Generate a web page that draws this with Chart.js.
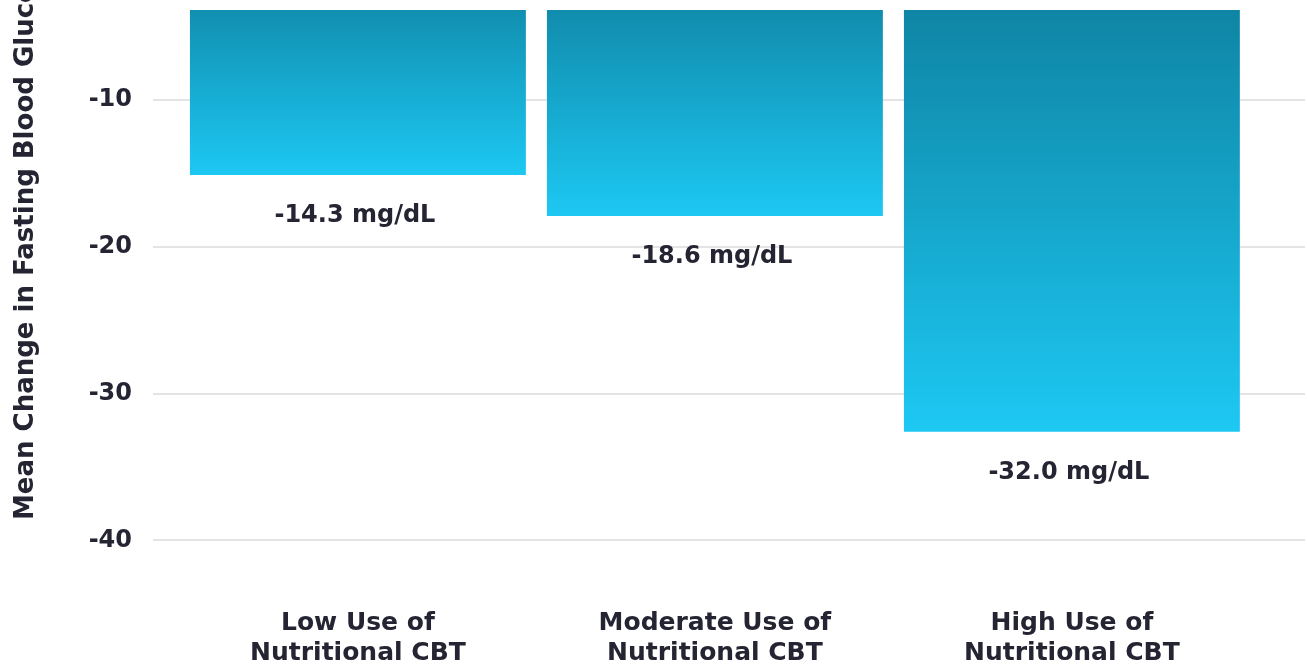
<!DOCTYPE html>
<html>
<head>
<meta charset="utf-8">
<script src="https://cdn.jsdelivr.net/npm/chart.js@4"></script>
<style>
  html, body { margin: 0; padding: 0; background: #fff; }
  #wrap { width: 1307px; height: 668px; }
</style>
</head>
<body>
<div id="wrap"><canvas id="glucoseChart"></canvas></div>
<script>
// chart data
const categories = [
  ['Low Use of', 'Nutritional CBT'],
  ['Moderate Use of', 'Nutritional CBT'],
  ['High Use of', 'Nutritional CBT']
];
const positions = [0, 1, 2];
const meanChange = [-15.1, -17.9, -32.6];
const valueLabels = ['-14.3 mg/dL', '-18.6 mg/dL', '-32.0 mg/dL'];
const yTicks = [-40, -30, -20, -10];
const yTitle = 'Mean Change in Fasting Blood Glucose (mg/dL)';

const textColor = '#242432';
const fontFamily = '"DejaVu Sans", sans-serif';

const barGradient = (context) => {
    const chart = context.chart;
    const { ctx, chartArea } = chart;
    if (!chartArea || context.raw == null) return '#19b4df';
    const y = chart.scales.y;
    const g = ctx.createLinearGradient(0, y.getPixelForValue(0), 0, y.getPixelForValue(context.raw.y));
    g.addColorStop(0, '#0d7c9a');
    g.addColorStop(1, '#1dc8f3');
    return g;
};

const valueLabelPlugin = {
    id: 'valueLabels',
    afterDatasetsDraw(chart) {
        const { ctx } = chart;
        const meta = chart.getDatasetMeta(0);
        ctx.save();
        ctx.fillStyle = textColor;
        ctx.font = 'bold 24px ' + fontFamily;
        ctx.textAlign = 'center';
        ctx.textBaseline = 'middle';
        meta.data.forEach((bar, i) => {
            ctx.fillText(valueLabels[i], bar.x - 3, bar.y + 41);
        });
        ctx.restore();
    }
};

// y title sits partly above the canvas, like in the cropped original
const yTitlePlugin = {
    id: 'yTitle',
    afterDraw(chart) {
        const { ctx } = chart;
        ctx.save();
        ctx.translate(33, 520);
        ctx.rotate(-Math.PI / 2);
        ctx.fillStyle = textColor;
        ctx.font = 'bold 26px ' + fontFamily;
        ctx.textAlign = 'left';
        ctx.textBaseline = 'alphabetic';
        ctx.fillText(yTitle, 0, 0);
        ctx.restore();
    }
};

const noPadding = (scale) => {
    scale.paddingLeft = 0;
    scale.paddingRight = 0;
    scale.paddingTop = 0;
    scale.paddingBottom = 0;
};

new Chart(document.getElementById('glucoseChart'), {
    type: 'bar',
    data: {
        datasets: [{
            data: positions.map((x, i) => ({ x: x, y: meanChange[i] })),
            backgroundColor: barGradient,
            borderWidth: 0,
            categoryPercentage: 1,
            barPercentage: 0.941
        }]
    },
    options: {
        responsive: true,
        maintainAspectRatio: false,
        animation: false,
        layout: { padding: { top: 10, right: 2, left: 0, bottom: 0 } },
        plugins: {
            legend: { display: false },
            tooltip: { enabled: false }
        },
        scales: {
            x: {
                type: 'linear',
                offset: false,
                min: -0.574,
                max: 2.653,
                afterBuildTicks: (scale) => {
                    scale.ticks = positions.map(v => ({ value: v }));
                },
                afterFit: (scale) => { scale.height = 69; noPadding(scale); },
                grid: { display: false },
                border: { display: false },
                ticks: {
                    padding: 1,
                    maxRotation: 0,
                    autoSkip: false,
                    color: textColor,
                    font: { family: fontFamily, size: 25, weight: 'bold', lineHeight: '30px' },
                    callback: (value) => categories[value] || ''
                }
            },
            y: {
                min: -44,
                max: -3.85,
                afterBuildTicks: (scale) => {
                    scale.ticks = yTicks.map(v => ({ value: v }));
                },
                afterFit: (scale) => { scale.width = 153; noPadding(scale); },
                grid: { color: '#e4e4e4', lineWidth: 2, drawTicks: false },
                border: { display: false },
                ticks: {
                    padding: 21,
                    color: textColor,
                    font: { family: fontFamily, size: 24, weight: 'bold' }
                }
            }
        }
    },
    plugins: [valueLabelPlugin, yTitlePlugin]
});
</script>
</body>
</html>
